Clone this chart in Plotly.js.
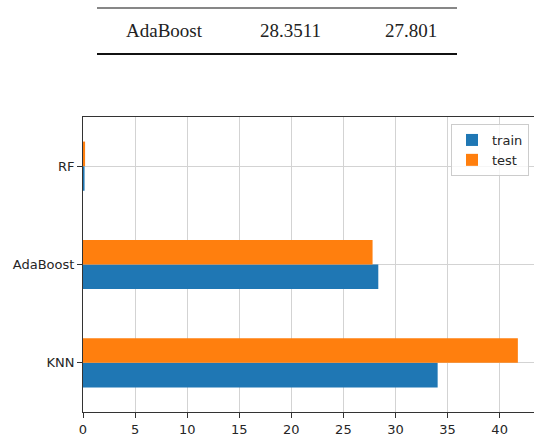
<!DOCTYPE html>
<html>
<head>
<meta charset="utf-8">
<script src="https://cdn.plot.ly/plotly-3.0.1.min.js"></script>
<style>html,body{margin:0;padding:0;background:#fff;}#chart{width:534px;height:438px;}</style>
</head>
<body>
<div id="chart"></div>
<script>
// Chart data
const categories = ['KNN', 'AdaBoost', 'RF'];
const trainValues = [34.05, 28.3511, 0.15];
const testValues = [41.75, 27.801, 0.2];
const xTickValues = [0, 5, 10, 15, 20, 25, 30, 35, 40];
const xTickLabels = ['0', '5', '10', '15', '20', '25', '30', '35', '40'];
// Table fragment above the chart
const tableRow = ['AdaBoost', '28.3511', '27.801'];
const tableColumnX = [164, 290, 411];

const W = 534, H = 438;
const L = 83, R = 0, T = 117, B = 26;
const pw = W - L - R, ph = H - T - B;
const px = v => (v - L) / pw;
const py = v => (H - B - v) / ph;

const traces = [
  {type: 'bar', orientation: 'h', name: 'train', y: categories, x: trainValues,
   marker: {color: '#1f77b4', line: {width: 0}}},
  {type: 'bar', orientation: 'h', name: 'test', y: categories, x: testValues,
   marker: {color: '#ff7f0e', line: {width: 0}}}
];

const tickFont = {family: 'DejaVu Sans', size: 13, color: '#262626'};
const serif = {family: 'Liberation Serif', size: 19, color: '#222'};

const layout = {
  width: W, height: H,
  margin: {l: L, r: R, t: T, b: B, pad: 0},
  paper_bgcolor: '#fff', plot_bgcolor: '#fff',
  barmode: 'group', bargap: 0.5, bargroupgap: 0,
  showlegend: true,
  legend: {x: px(451), y: py(124), xanchor: 'left', yanchor: 'top',
           bgcolor: 'rgba(255,255,255,0.8)', bordercolor: '#cccccc', borderwidth: 1,
           font: {family: 'DejaVu Sans', size: 13, color: '#262626'}, traceorder: 'normal'},
  xaxis: {range: [0, 43.3], tickmode: 'array', tickvals: xTickValues, ticktext: xTickLabels,
          showgrid: true, gridcolor: '#d3d3d3', gridwidth: 1, zeroline: false,
          showline: true, linecolor: '#333', linewidth: 1, mirror: true,
          ticks: 'outside', ticklen: 5, tickcolor: '#333', tickfont: tickFont, fixedrange: true},
  yaxis: {type: 'category', categoryorder: 'array', categoryarray: categories,
          range: [-0.5, 2.5], showgrid: true, gridcolor: '#d3d3d3', gridwidth: 1,
          showline: true, linecolor: '#333', linewidth: 1,
          ticks: 'outside', ticklen: 5, tickcolor: '#333', tickfont: tickFont, fixedrange: true},
  shapes: [
    {type: 'line', xref: 'paper', yref: 'paper', x0: px(97), x1: px(457), y0: py(8), y1: py(8),
     line: {color: '#111', width: 1.2}},
    {type: 'line', xref: 'paper', yref: 'paper', x0: px(97), x1: px(457), y0: py(54), y1: py(54),
     line: {color: '#111', width: 2}}
  ],
  annotations: tableRow.map((t, i) => ({
    text: t, xref: 'paper', yref: 'paper', x: px(tableColumnX[i]), y: py(31),
    xanchor: 'center', yanchor: 'middle', showarrow: false, font: serif
  }))
};

Plotly.newPlot('chart', traces, layout, {displayModeBar: false, staticPlot: true});
</script>
</body>
</html>
